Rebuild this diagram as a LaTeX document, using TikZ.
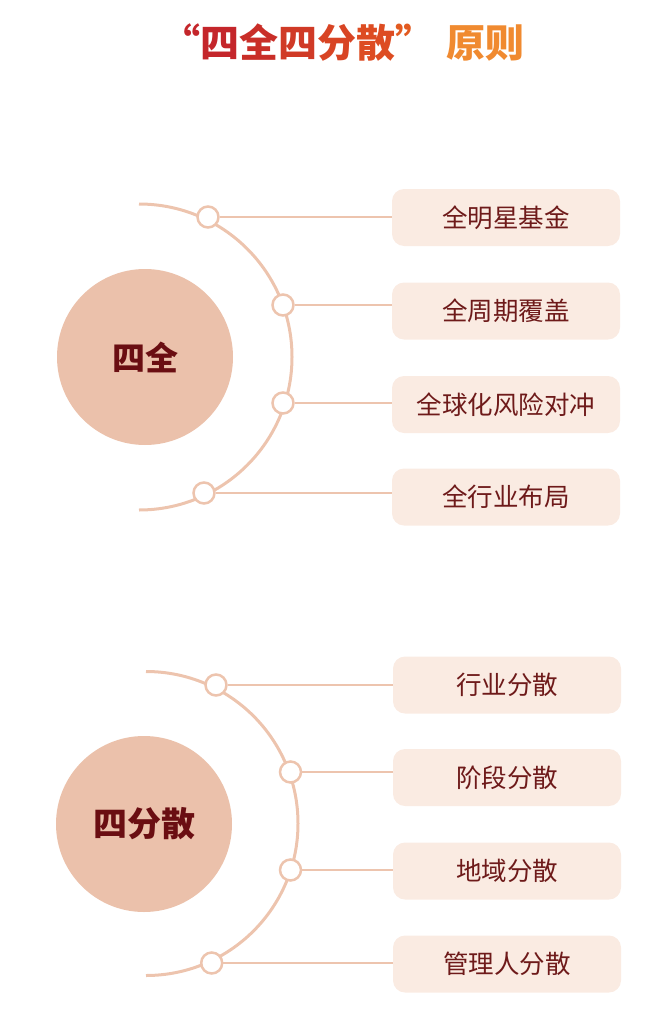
\documentclass[tikz,border=0pt]{standalone}
\usepackage{fontspec}
\newfontfamily\cjk{Noto Sans CJK SC}
\definecolor{bigfill}{HTML}{EBC1AB}
\definecolor{linec}{HTML}{EDC4AE}
\definecolor{boxfill}{HTML}{FAEBE2}
\definecolor{txtred}{HTML}{6E1A1A}
\definecolor{labred}{HTML}{6A0E12}
\definecolor{tA}{HTML}{C4262B}
\definecolor{tB}{HTML}{C92E28}
\definecolor{tC}{HTML}{D03A26}
\definecolor{tD}{HTML}{D84424}
\definecolor{tE}{HTML}{DD4C22}
\definecolor{tF}{HTML}{E25A20}
\definecolor{tG}{HTML}{F08A30}
\begin{document}
\begin{tikzpicture}[x=1pt,y=-1pt,
  bigc/.style={circle,fill=bigfill,minimum size=176pt,inner sep=0pt,text=labred,font=\cjk\bfseries\fontsize{33}{33}\selectfont},
  dot/.style={circle,draw=linec,line width=2.5pt,fill=white,minimum size=21pt,inner sep=0pt},
  item/.style={rectangle,rounded corners=12pt,fill=boxfill,minimum width=228pt,minimum height=57pt,text=txtred,font=\cjk\fontsize{25.5}{25.5}\selectfont,inner sep=0pt},
  conn/.style={draw=linec,line width=2pt},
  ring/.style={draw=linec,line width=3pt}]
\useasboundingbox (0,0) rectangle (670,1025);
\node[font=\cjk\bfseries\fontsize{39}{39}\selectfont,inner sep=0pt] (title) at (343,43)
  {\textcolor{tA}{“四}\textcolor{tB}{全}\textcolor{tC}{四}\textcolor{tD}{分}\textcolor{tE}{散}\textcolor{tF}{”}\hspace{12pt}\textcolor{tG}{原则}};
% upper group
\node[bigc] (c1) at (145,357) {四全};
\draw[ring] ([shift={(-90:153)}]139,357) arc[start angle=-90,end angle=90,radius=153];
\node[dot] (d1) at (208,217) {};
\node[dot] (d2) at (283,305) {};
\node[dot] (d3) at (283,403) {};
\node[dot] (d4) at (204,493) {};
\node[item] (b1) at (506,217.5) {全明星基金};
\node[item] (b2) at (506,311) {全周期覆盖};
\node[item] (b3) at (506,404.5) {全球化风险对冲};
\node[item] (b4) at (506,497) {全行业布局};
\foreach \i in {1,2,3,4} \draw[conn] (d\i.east) -- (d\i.east -| b\i.west);
% lower group
\node[bigc,font=\cjk\bfseries\fontsize{34}{34}\selectfont] (c2) at (144,824) {四分散};
\draw[ring] ([shift={(-90:152)}]146,823.5) arc[start angle=-90,end angle=90,radius=152];
\node[dot] (e1) at (216,685) {};
\node[dot] (e2) at (290.5,772) {};
\node[dot] (e3) at (290.5,870) {};
\node[dot] (e4) at (211.7,963) {};
\node[item] (f1) at (507,685) {行业分散};
\node[item] (f2) at (507,777.5) {阶段分散};
\node[item] (f3) at (507,871) {地域分散};
\node[item] (f4) at (507,964) {管理人分散};
\foreach \i in {1,2,3,4} \draw[conn] (e\i.east) -- (e\i.east -| f\i.west);
\end{tikzpicture}
\end{document}
